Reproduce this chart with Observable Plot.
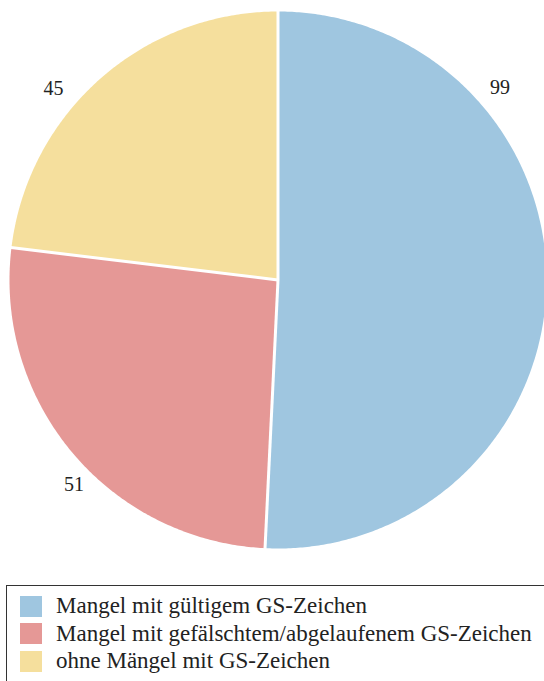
<!DOCTYPE html>
<html>
<head>
<meta charset="utf-8">
<script src="https://cdn.jsdelivr.net/npm/d3@7"></script>
<script src="https://cdn.jsdelivr.net/npm/@observablehq/plot@0.6"></script>
</head>
<body style="margin:0;padding:0;background:#fff;overflow:hidden;width:544px;height:681px;position:relative;font-family:'Liberation Serif',serif">
<div id="chart" style="position:absolute;left:0;top:0"></div>
<div id="legend" style="position:absolute;left:6px;top:585px;width:600px;height:120px;border:1.5px solid #333;box-sizing:border-box">
  <div style="position:absolute;left:13px;top:7px;display:flex;align-items:center;white-space:nowrap"><div id="sw0" style="width:22px;height:21px;margin-right:14px"></div><span id="t0" style="font-family:'Liberation Serif' !important;font-size:23px;color:#222"></span></div>
  <div style="position:absolute;left:13px;top:34.5px;display:flex;align-items:center;white-space:nowrap"><div id="sw1" style="width:22px;height:21px;margin-right:14px"></div><span id="t1" style="font-family:'Liberation Serif' !important;font-size:23px;color:#222"></span></div>
  <div style="position:absolute;left:13px;top:62px;display:flex;align-items:center;white-space:nowrap"><div id="sw2" style="width:22px;height:21px;margin-right:14px"></div><span id="t2" style="font-family:'Liberation Serif' !important;font-size:23px;color:#222"></span></div>
</div>
<script>
// Data
const categories = [
  "Mangel mit gültigem GS-Zeichen",
  "Mangel mit gefälschtem/abgelaufenem GS-Zeichen",
  "ohne Mängel mit GS-Zeichen"
];
const values = [99, 51, 45];
const colors = ["#9fc6e0", "#e59896", "#f5df9d"];

// Layout (not data)
const labelAngles = [49, 225, 310.5];   // degrees clockwise from top
const labelRadii = [1.095, 1.075, 1.1];
const serif = "Liberation Serif";

const total = d3.sum(values);
const slices = [];
let acc = 0;
values.forEach((v, i) => {
  const a0 = acc / total * 360;
  acc += v;
  const a1 = acc / total * 360;
  slices.push({cat: categories[i], value: v, a0, a1});
});

const rad = a => a * Math.PI / 180;
const polyPts = [];
for (const s of slices) {
  polyPts.push({cat: s.cat, x: 0, y: 0});
  const n = Math.max(2, Math.ceil((s.a1 - s.a0) / 0.5));
  for (let k = 0; k <= n; k++) {
    const a = rad(s.a0 + (s.a1 - s.a0) * k / n);
    polyPts.push({cat: s.cat, x: Math.sin(a), y: Math.cos(a)});
  }
}
const seps = slices.map(s => ({x1: 0, y1: 0, x2: Math.sin(rad(s.a0)) * 1.01, y2: Math.cos(rad(s.a0)) * 1.01}));
const labels = slices.map((s, i) => ({
  text: String(s.value),
  x: Math.sin(rad(labelAngles[i])) * labelRadii[i],
  y: Math.cos(rad(labelAngles[i])) * labelRadii[i]
}));

const plot = Plot.plot({
  width: 544,
  height: 585,
  margin: 0,
  x: {domain: [-1, 1], range: [9, 546], axis: null},
  y: {domain: [-1, 1], range: [548, 11], axis: null},
  color: {domain: categories, range: colors},
  style: {background: "transparent", fontFamily: serif},
  marks: [
    Plot.line(polyPts, {x: "x", y: "y", z: "cat", fill: "cat", stroke: "none", curve: "linear"}),
    Plot.link(seps, {x1: "x1", y1: "y1", x2: "x2", y2: "y2", stroke: "white", strokeWidth: 3}),
    Plot.text(labels, {x: "x", y: "y", text: "text", fontSize: 20, fontFamily: serif, fill: "#222"})
  ]
});
plot.querySelectorAll("text").forEach(t => t.style.setProperty("font-family", serif, "important"));
document.getElementById("chart").appendChild(plot);

categories.forEach((c, i) => {
  document.getElementById("sw" + i).style.background = colors[i];
  document.getElementById("t" + i).textContent = c;
});
</script>
</body>
</html>
